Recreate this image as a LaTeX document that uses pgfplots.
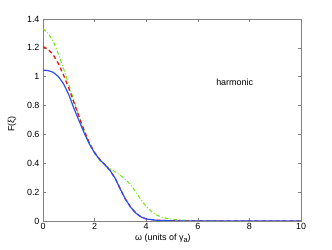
\documentclass[border=0pt]{standalone}
\usepackage{pgfplots}
\pgfplotsset{compat=1.18}
\usepackage{fontspec}
\setmainfont{Liberation Sans}
\definecolor{mblue}{RGB}{40,80,245}
\definecolor{mred}{RGB}{240,20,20}
\definecolor{mgreen}{RGB}{110,230,20}
\definecolor{frame}{RGB}{130,130,130}
\begin{document}
\begin{tikzpicture}
\useasboundingbox (-43bp,-29bp) rectangle (289bp,221bp);
\begin{axis}[
  scale only axis, width=258bp, height=202bp,
  at={(0,0)}, anchor=south west,
  xmin=0, xmax=10, ymin=0, ymax=1.4,
  xtick={0,2,4,6,8,10}, ytick={0,0.2,0.4,0.6,0.8,1,1.2,1.4},
  yticklabels={0,0.2,0.4,0.6,0.8,1,1.2,1.4},
  xticklabels={0,2,4,6,8,10},
  tick align=inside, tick style={frame, line width=0.5pt}, major tick length=3bp,
  axis line style={frame, line width=0.7pt},
  ticklabel style={font=\fontsize{9}{10}\selectfont},
  xticklabel style={yshift=1bp},
  xlabel={ω (units of γ\raisebox{-0.55ex}{\fontsize{7.5}{8}\selectfont a})},
  xlabel style={at={(axis description cs:0.465,-0.085)}, anchor=center, font=\fontsize{9}{10}\selectfont},
  ylabel={F(ξ)},
  ylabel style={at={(axis description cs:-0.12,0.48)}, anchor=center, font=\fontsize{9}{10}\selectfont},
  clip=true,
]
\addplot[mgreen, line width=1pt, dash pattern=on 4pt off 2pt on 1pt off 2pt] coordinates {
(0,1.335) (0.2,1.30) (0.4,1.245) (0.6,1.155) (0.8,1.055) (1.0,0.945) (1.2,0.835)
(1.4,0.725) (1.6,0.625) (1.8,0.535) (2.0,0.468) (2.2,0.42) (2.4,0.386) (2.6,0.362)
(2.8,0.34) (3.0,0.316) (3.2,0.287) (3.4,0.25) (3.6,0.2) (3.8,0.147) (4.0,0.1)
(4.2,0.066) (4.4,0.042) (4.6,0.027) (4.8,0.018) (5.0,0.012) (5.4,0.006) (6,0.002) (7,0) (10,0)};
\addplot[mred, line width=1.3pt, dash pattern=on 4pt off 3pt] coordinates {
(0,1.208) (0.2,1.19) (0.4,1.15) (0.6,1.09) (0.8,1.01) (1.0,0.92) (1.2,0.82)
(1.4,0.72) (1.6,0.625) (1.8,0.54) (2.0,0.475) (2.2,0.427) (2.4,0.39) (2.6,0.35)
(2.8,0.295) (3.0,0.22) (3.2,0.15) (3.4,0.095) (3.6,0.055) (3.8,0.028) (4.0,0.014)
(4.4,0.005) (5,0.001) (6,0) (10,0)};
\addplot[mblue, line width=1.2pt] coordinates {
(0,1.046) (0.2,1.042) (0.4,1.03) (0.6,1.0) (0.8,0.95) (1.0,0.875) (1.2,0.78)
(1.4,0.693) (1.6,0.608) (1.8,0.533) (2.0,0.472) (2.2,0.425) (2.4,0.39) (2.6,0.35)
(2.8,0.295) (3.0,0.22) (3.2,0.15) (3.4,0.095) (3.6,0.055) (3.8,0.028) (4.0,0.014)
(4.4,0.005) (5,0.001) (6,0) (10,0)};
\node[font=\fontsize{9}{10}\selectfont] at (axis cs:7.43,0.958) {harmonic};
\end{axis}
\end{tikzpicture}
\end{document}
